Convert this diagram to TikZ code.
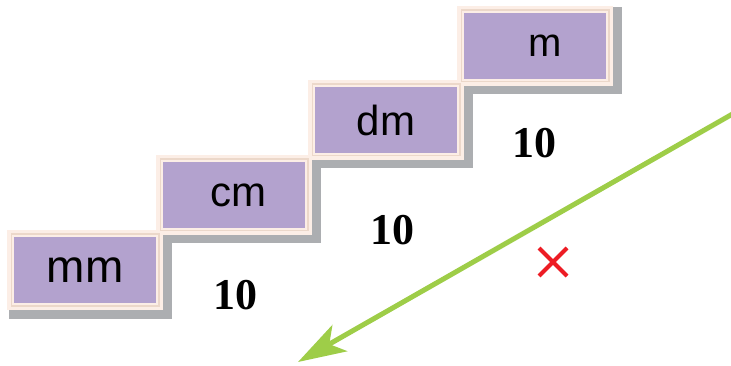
\documentclass[tikz,border=0pt]{standalone}
\usepackage{fontspec}
\setmainfont{Liberation Serif}
\setsansfont{Liberation Sans}
\usetikzlibrary{calc,backgrounds,arrows.meta}
\definecolor{boxpurple}{RGB}{179,162,206}
\definecolor{framelight}{RGB}{252,238,230}
\definecolor{framedark}{RGB}{236,216,202}
\definecolor{shadowgray}{RGB}{172,174,177}
\definecolor{arrowgreen}{RGB}{158,205,72}
\definecolor{crossred}{RGB}{237,28,36}
\tikzset{
  unitbox/.style={draw=framelight, line width=7pt, fill=boxpurple,
    minimum width=149pt, minimum height=73pt, inner sep=0pt,
    font=\sffamily\fontsize{42}{48}\selectfont, text=black},
  tenlabel/.style={font=\bfseries\fontsize{44}{50}\selectfont, inner sep=0pt},
  greenarrow/.style={arrowgreen, line width=5pt,
    -{Stealth[length=48pt, width=30pt, inset=12pt]}},
  crossline/.style={crossred, line width=4pt}
}
\begin{document}
\begin{tikzpicture}[x=1pt, y=-1pt]
\useasboundingbox (0,0) rectangle (731,366);
\node[unitbox, font=\sffamily\fontsize{46}{50}\selectfont] (mm) at (85,270) {mm};
\node[unitbox] (cm) at (234,195) {\hspace*{8pt}cm};
\node[unitbox] (dm) at (386,120) {dm};
\node[unitbox, font=\sffamily\fontsize{40}{46}\selectfont] (m) at (535,46) {\hspace*{20pt}m};
\foreach \n in {mm,cm,dm,m}{
  \draw[framedark, line width=1.2pt]
    ($(\n.north west)+(4.1,4.1)$) rectangle ($(\n.south east)-(4.1,4.1)$);
}
\begin{scope}[on background layer]
\foreach \n in {mm,cm,dm,m}{
  \fill[shadowgray] ($(\n.north west)+(1.5,1.5)$) rectangle ($(\n.south east)+(8.5,8.5)$);
}
\end{scope}
\node[tenlabel] (t1) at (235,295) {10};
\node[tenlabel] (t2) at (392,230) {10};
\node[tenlabel] (t3) at (534,143) {10};
\coordinate (a1) at (736,112);
\coordinate (a2) at (298,362);
\draw[greenarrow] (a1) -- (a2);
\coordinate (x1) at (539,248);
\coordinate (x2) at (567,276);
\coordinate (x3) at (539,276);
\coordinate (x4) at (567,248);
\draw[crossline] (x1) -- (x2);
\draw[crossline] (x3) -- (x4);
\end{tikzpicture}
\end{document}
